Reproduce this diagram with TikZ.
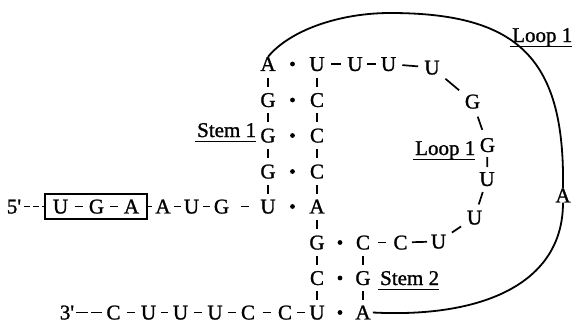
\documentclass[tikz,border=0pt]{standalone}
\usepackage{fontspec}
\setmainfont{Liberation Serif}
\newfontfamily\semibold{Liberation Serif}[FakeBold=1.2]
\usetikzlibrary{calc,fit}
\begin{document}
\begin{tikzpicture}[x=1pt,y=-1pt,
  nt/.style={inner sep=0pt, text height=13.9pt, text depth=0pt, font=\fontsize{21}{25}\semibold},
  lab/.style={inner sep=0pt, anchor=base west, font=\fontsize{21}{25}\semibold},
  ln/.style={line width=1.7pt},
  hy/.style={to path={($(\tikztostart)!.5!(\tikztotarget)!#1!(\tikztostart)$) -- ($(\tikztostart)!.5!(\tikztotarget)!#1!(\tikztotarget)$)}},
  hy/.default=4pt,
  bp/.style={circle, fill, inner sep=0pt, minimum size=4.8pt},
  arcline/.style={line width=1.8pt},
  ul/.style={line width=1.6pt}]
\useasboundingbox (0,0) rectangle (573,324);
% left column (stem 1, 5' side)
\node[nt] (a1) at (268,64) {A};
\node[nt] (a2) at (268,100) {G};
\node[nt] (a3) at (268,135.5) {G};
\node[nt] (a4) at (268,171.5) {G};
\node[nt] (a5) at (268,206.5) {U};
% right column
\node[nt] (b1) at (317,64) {U};
\node[nt] (b2) at (317,100) {C};
\node[nt] (b3) at (317,135.5) {C};
\node[nt] (b4) at (317,171.5) {C};
\node[nt] (b5) at (317,206.5) {A};
\node[nt] (b6) at (317,242.5) {G};
\node[nt] (b7) at (317,278) {C};
\node[nt] (b8) at (317,312.5) {U};
% stem 2 partner column
\node[nt] (c1) at (363,242.5) {C};
\node[nt] (c2) at (363,278) {G};
\node[nt] (c3) at (363,312.5) {A};
% loop
\node[nt] (t2) at (355,64) {U};
\node[nt] (t3) at (388.5,64) {U};
\node[nt] (t4) at (432,67.5) {U};
\node[nt] (t5) at (472.5,101.5) {G};
\node[nt] (t6) at (487.5,145) {G};
\node[nt] (t7) at (487,179) {U};
\node[nt] (t8) at (474.5,217.5) {U};
\node[nt] (t9) at (438.5,241.5) {U};
\node[nt] (t10) at (400.5,242.5) {C};
% outer loop
\node[nt] (o) at (563,195.5) {A};
% 5' line
\node[nt] (p5) at (14,206.5) {5'};
\node[nt] (k1) at (60.5,206.5) {U};
\node[nt] (k2) at (96.5,206.5) {G};
\node[nt] (k3) at (131.5,206.5) {A};
\node[draw, line width=1.7pt, fit=(k1)(k3), inner xsep=8pt, inner ysep=5.5pt] (box) {};
\node[nt] (m1) at (163,206.5) {A};
\node[nt] (m2) at (191.5,206.5) {U};
\node[nt] (m3) at (221.5,206.5) {G};
% 3' line
\node[nt] (q3) at (67,312.5) {3'};
\node[nt] (n1) at (113.5,312.5) {C};
\node[nt] (n2) at (148.5,312.5) {U};
\node[nt] (n3) at (180.5,312.5) {U};
\node[nt] (n4) at (215,312.5) {U};
\node[nt] (n5) at (248,312.5) {C};
\node[nt] (n6) at (285,312.5) {C};
% labels
\node[lab] (s1) at (197,137) {Stem 1};
\node[lab] (l1) at (512,42) {Loop 1};
\node[lab] (l2) at (415,155) {Loop 1};
\node[lab] (s2) at (380,285) {Stem 2};
\foreach \n in {s1,l1,l2,s2}
  \draw[ul] ([xshift=-2pt,yshift=-4.5pt]\n.base west) -- ([yshift=-4.5pt]\n.base east);
% base-pair dots
\foreach \u/\v in {a1/b1,a2/b2,a3/b3,a4/b4,a5/b5,b6/c1,b7/c2,b8/c3}
  \node[bp] at ($(\u)!.5!(\v)$) {};
% backbone dashes
\draw[ln] (a1) edge[hy=4.5pt] (a2) (a2) edge[hy=4.5pt] (a3) (a3) edge[hy=4.5pt] (a4) (a4) edge[hy=4.5pt] (a5)
  (b1) edge[hy=4.5pt] (b2) (b2) edge[hy=4.5pt] (b3) (b3) edge[hy=4.5pt] (b4) (b4) edge[hy=4.5pt] (b5)
  (b5) edge[hy=4.5pt] (b6) (b6) edge[hy=4.5pt] (b7) (b7) edge[hy=4.5pt] (b8)
  (c1) edge[hy=4.5pt] (c2) (c2) edge[hy=4.5pt] (c3)
  (b1) edge[hy=5pt] (t2) (t2) edge[hy=4.5pt] (t3) (t3) edge[hy=8pt] (t4)
  (t4) edge[hy=9pt] (t5) (t5) edge[hy=7pt] (t6) (t6) edge[hy=5pt] (t7)
  (t7) edge[hy=6.5pt] (t8) (t8) edge[hy=5.5pt] (t9) (t9) edge[hy=7.5pt] (t10) (t10) edge[hy=4pt] (c1)
  (k1) edge[hy] (k2) (k2) edge[hy] (k3)
  (m1) edge[hy=3.5pt] (m2) (m2) edge[hy=3.5pt] (m3) (m3) edge[hy=4pt] (a5)
  (n1) edge[hy] (n2) (n2) edge[hy=3.5pt] (n3) (n3) edge[hy=4pt] (n4) (n4) edge[hy=4pt] (n5) (n5) edge[hy=4pt] (n6) (n6) edge[hy=4pt] (b8);
\draw[ln, shorten >=3pt] (box.east) -- (m1.west |- box.east);
\draw[ln, dash pattern=on 6pt off 3pt, shorten <=3pt] (p5.east) -- (box.west);
\draw[ln, dash pattern=on 12pt off 3pt, shorten <=2pt, shorten >=4pt] (q3.east) -- (n1.west);
% outer loop arc
\draw[arcline] (a1.north) .. controls (290,30) and (340,13) .. (390,13)
  .. controls (520,13) and (565,60) .. (o.north);
\draw[arcline] (o.south) .. controls (563,285) and (480,318) .. ([xshift=2pt]c3.east);
\end{tikzpicture}
\end{document}
